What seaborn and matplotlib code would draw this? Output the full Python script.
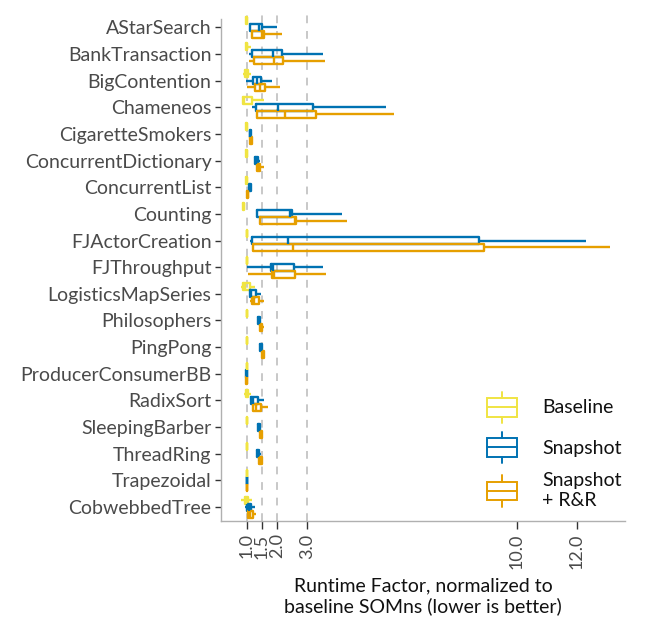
import numpy as np
import pandas as pd
import matplotlib
matplotlib.use("Agg")
import matplotlib.pyplot as plt
import seaborn as sns
from matplotlib.legend_handler import HandlerBase
from matplotlib.patches import Rectangle
from matplotlib.lines import Line2D

# benchmarks, top to bottom
benchmarks = ["AStarSearch", "BankTransaction", "BigContention", "Chameneos",
              "CigaretteSmokers", "ConcurrentDictionary", "ConcurrentList",
              "Counting", "FJActorCreation", "FJThroughput", "LogisticsMapSeries",
              "Philosophers", "PingPong", "ProducerConsumerBB", "RadixSort",
              "SleepingBarber", "ThreadRing", "Trapezoidal", "CobwebbedTree"]

configs = ["Baseline", "Snapshot", "Snapshot\n+ R&R"]

# five-number summaries (whisker low, q1, median, q3, whisker high)
base_lo  = [0.94, 0.93, 0.87, 0.87, 0.97, 0.97, 0.97, 0.85, 0.98, 0.98, 0.82, 0.98, 0.98, 0.98, 0.92, 0.98, 0.98, 0.98, 0.80]
base_q1  = [0.97, 0.96, 0.95, 0.88, 0.98, 0.98, 0.98, 0.87, 0.99, 0.99, 0.87, 0.99, 0.99, 0.99, 0.96, 0.99, 0.99, 0.99, 0.93]
base_med = [0.99, 0.99, 1.00, 0.92, 1.00, 1.00, 1.00, 0.89, 1.00, 1.00, 0.95, 1.00, 1.00, 1.00, 0.99, 1.00, 1.00, 1.00, 0.98]
base_q3  = [1.01, 1.02, 1.05, 1.17, 1.01, 1.01, 1.02, 0.91, 1.01, 1.01, 1.09, 1.01, 1.01, 1.01, 1.03, 1.01, 1.01, 1.01, 1.04]
base_hi  = [1.03, 1.13, 1.15, 1.56, 1.03, 1.03, 1.04, 0.93, 1.02, 1.02, 1.28, 1.02, 1.02, 1.02, 1.15, 1.02, 1.02, 1.02, 1.16]

snap_lo  = [1.08, 1.07, 0.98, 1.17, 1.07, 1.25, 1.05, 1.35, 1.09, 1.01, 1.06, 1.33, 1.43, 0.97, 1.12, 1.35, 1.32, 0.98, 0.93]
snap_q1  = [1.11, 1.18, 1.21, 1.32, 1.09, 1.26, 1.07, 1.35, 1.17, 1.81, 1.09, 1.36, 1.45, 0.98, 1.15, 1.37, 1.34, 0.99, 1.00]
snap_med = [1.40, 1.87, 1.35, 2.05, 1.12, 1.30, 1.10, 2.45, 2.37, 1.88, 1.15, 1.39, 1.48, 1.00, 1.22, 1.40, 1.37, 1.00, 1.07]
snap_q3  = [1.49, 2.17, 1.48, 3.20, 1.15, 1.36, 1.13, 2.49, 8.72, 2.57, 1.31, 1.43, 1.51, 1.02, 1.37, 1.44, 1.41, 1.01, 1.15]
snap_hi  = [2.00, 3.53, 1.85, 5.65, 1.17, 1.45, 1.15, 4.18, 12.29, 3.55, 1.48, 1.46, 1.53, 1.03, 1.58, 1.46, 1.47, 1.02, 1.28]

rr_lo  = [1.13, 1.07, 1.00, 1.29, 1.08, 1.32, 0.98, 1.45, 1.17, 1.05, 1.10, 1.42, 1.49, 0.97, 1.20, 1.41, 1.39, 0.98, 1.02]
rr_q1  = [1.18, 1.23, 1.28, 1.35, 1.10, 1.34, 1.00, 1.45, 1.19, 1.85, 1.16, 1.45, 1.51, 0.98, 1.22, 1.43, 1.41, 0.99, 1.05]
rr_med = [1.51, 1.92, 1.43, 2.27, 1.13, 1.39, 1.03, 2.60, 2.55, 1.92, 1.25, 1.48, 1.54, 1.00, 1.30, 1.46, 1.45, 1.00, 1.12]
rr_q3  = [1.58, 2.21, 1.60, 3.31, 1.17, 1.45, 1.05, 2.65, 8.90, 2.62, 1.40, 1.52, 1.57, 1.02, 1.47, 1.50, 1.50, 1.01, 1.20]
rr_hi  = [2.17, 3.59, 2.10, 5.92, 1.21, 1.58, 1.07, 4.35, 13.11, 3.65, 1.56, 1.56, 1.60, 1.03, 1.70, 1.53, 1.53, 1.02, 1.31]

colors = ["#F0E442", "#0072B2", "#E69F00"]

# build long table: each box gets its five summary values as points
stats = {
    configs[0]: [base_lo, base_q1, base_med, base_q3, base_hi],
    configs[1]: [snap_lo, snap_q1, snap_med, snap_q3, snap_hi],
    configs[2]: [rr_lo, rr_q1, rr_med, rr_q3, rr_hi],
}
rows = []
for cfg, arrs in stats.items():
    for i, b in enumerate(benchmarks):
        for a in arrs:
            rows.append({"benchmark": b, "config": cfg, "factor": a[i]})
df = pd.DataFrame(rows)

sns.set_style("white")
plt.rcParams["font.family"] = ["Lato", "DejaVu Sans"]
txt = "#4a4a4a"

fig = plt.figure(figsize=(6.49, 6.18), dpi=100)
ax = fig.add_axes([0.341, 0.157, 0.622, 0.827])

for v in [1.0, 1.5, 2.0, 3.0]:
    ax.axvline(v, color="#c8c8c8", lw=1.4, dashes=(4, 4), zorder=0)

sns.boxplot(data=df, x="factor", y="benchmark", hue="config", order=benchmarks,
            hue_order=configs, palette=colors, fill=False, whis=(0, 100),
            width=0.78, gap=0, linewidth=1.7, showfliers=False, showcaps=False,
            legend=False, ax=ax)
for p in ax.patches:
    p.set_facecolor("white")

ax.set_xlim(0.15, 13.6)
ax.set_ylim(18.52, -0.65)
ax.set_xticks([1.0, 1.5, 2.0, 3.0, 10.0, 12.0])
ax.set_xticklabels(["1.0", "1.5", "2.0", "3.0", "10.0", "12.0"], rotation=90)
ax.tick_params(axis="x", length=6, width=1, color="#333333", labelsize=13, labelcolor=txt, pad=3)
ax.tick_params(axis="y", length=4, width=1, color="#333333", labelsize=14, labelcolor=txt, pad=3)
ax.tick_params(bottom=True, left=True)
ax.set_ylabel("")
ax.set_xlabel("Runtime Factor, normalized to\nbaseline SOMns (lower is better)", fontsize=14,
              color="#111111", labelpad=6)

sns.despine(ax=ax)
ax.spines["left"].set_bounds(18.52, -0.3)
for s in ["left", "bottom"]:
    ax.spines[s].set_color("#b0b0b0")
    ax.spines[s].set_linewidth(1)


class BoxGlyph(HandlerBase):
    def create_artists(self, legend, orig_handle, xdescent, ydescent, width, height, fontsize, trans):
        c = orig_handle.get_edgecolor()
        x0, x1 = -xdescent, -xdescent + width
        y0, y1 = -ydescent + 0.2 * height, -ydescent + 0.8 * height
        xm, ym = (x0 + x1) / 2, -ydescent + height / 2
        box = Rectangle((x0, y0), x1 - x0, y1 - y0, fill=False, ec=c, lw=1.4, transform=trans)
        med = Line2D([x0, x1], [ym, ym], color=c, lw=1.4, transform=trans)
        w1 = Line2D([xm, xm], [-ydescent, y0], color=c, lw=1.4, transform=trans)
        w2 = Line2D([xm, xm], [y1, -ydescent + height], color=c, lw=1.4, transform=trans)
        return [box, med, w1, w2]


handles = [Rectangle((0, 0), 1, 1, fill=False, ec=c) for c in colors]
ax.legend(handles, configs, handler_map={Rectangle: BoxGlyph()}, frameon=False,
          loc="lower right", bbox_to_anchor=(1.035, -0.01), fontsize=14,
          handlelength=1.55, handleheight=2.1, handletextpad=1.3, labelspacing=0.45,
          labelcolor="#111111")

fig.savefig("out.png", dpi=100)
